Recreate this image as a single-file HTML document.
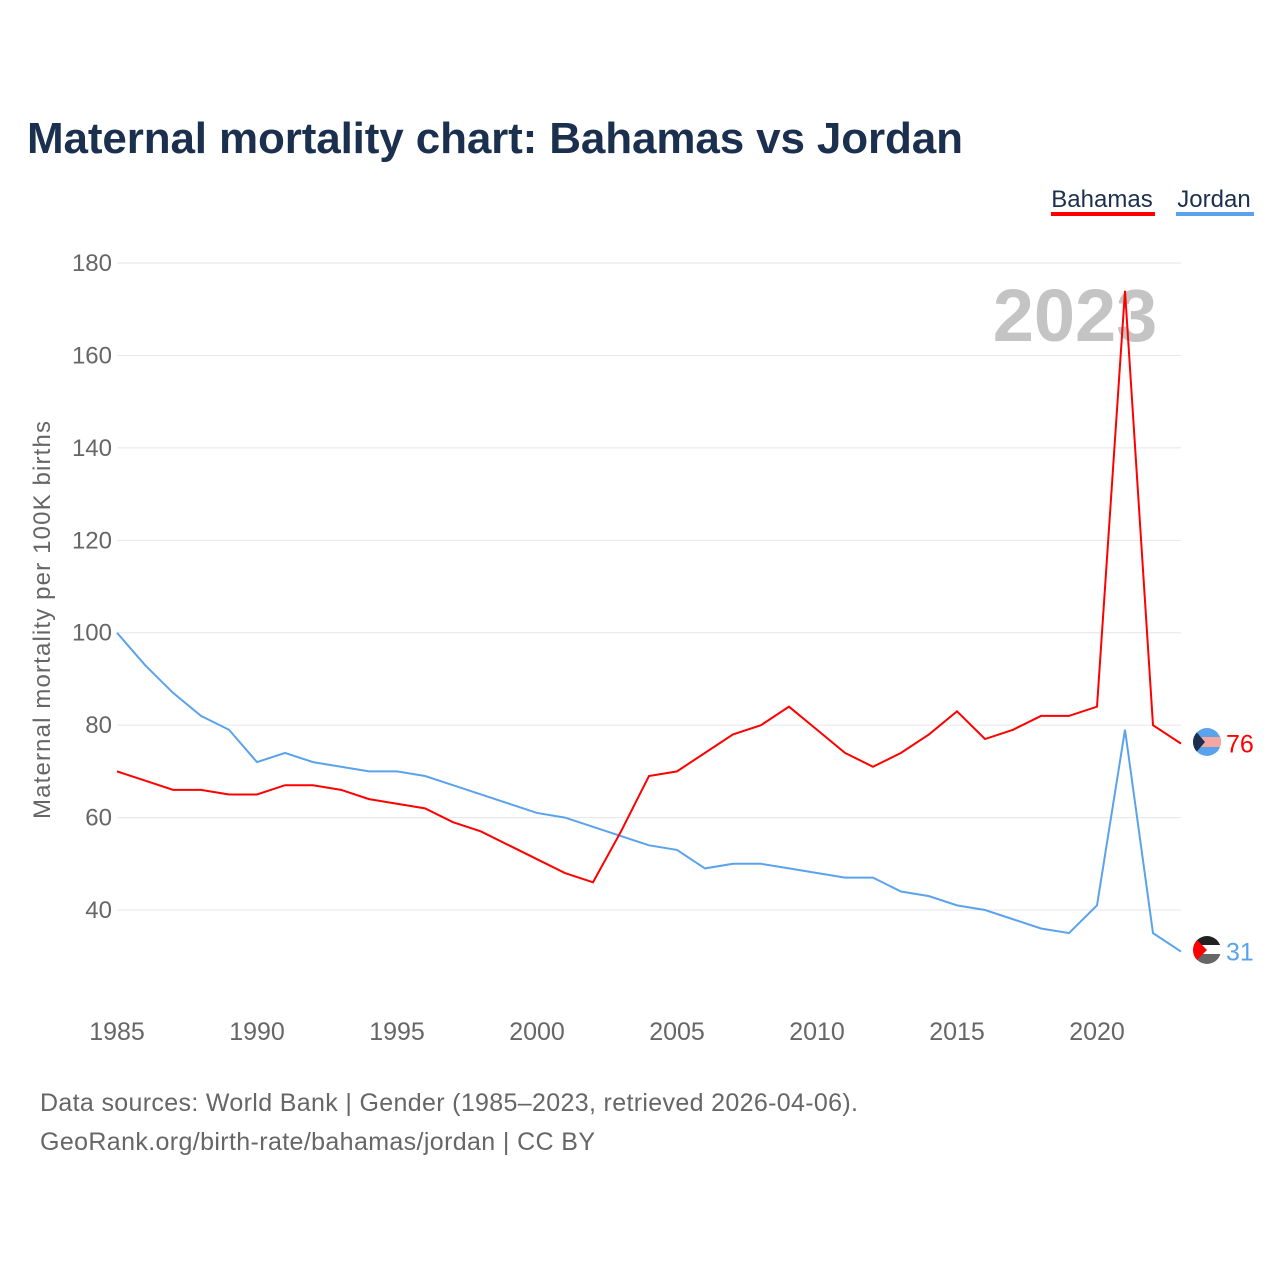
<!DOCTYPE html>
<html><head><meta charset="utf-8"><style>
body{margin:0;background:#fff;font-family:"Liberation Sans",sans-serif}
svg{display:block}
</style></head><body>
<svg width="1280" height="1280" viewBox="0 0 1280 1280" id="chart">
<defs>
<clipPath id="cb"><circle cx="1207" cy="742" r="14"/></clipPath>
<clipPath id="cj"><circle cx="1207" cy="950" r="14"/></clipPath>
</defs>
<text x="27" y="153" font-size="44" font-weight="bold" fill="#1b2f4e" textLength="936">Maternal mortality chart: Bahamas vs Jordan</text>
<g>
<text x="1102" y="207" font-size="24" fill="#1b2f4e" text-anchor="middle">Bahamas</text>
<rect x="1051" y="212" width="104" height="4" fill="#ff0000"/>
<text x="1214" y="207" font-size="24" fill="#1b2f4e" text-anchor="middle">Jordan</text>
<rect x="1176" y="212" width="78" height="4" fill="#5aa3ec"/>
</g>
<text x="1075" y="341" font-size="74" font-weight="bold" fill="#c4c4c4" text-anchor="middle">2023</text>
<g id="grid"></g><g id="xt"></g>
<text transform="translate(50,620) rotate(-90)" font-size="24" fill="#666" text-anchor="middle" textLength="398">Maternal mortality per 100K births</text>
<g id="lines"></g>
<g clip-path="url(#cb)">
<rect x="1193" y="728" width="28" height="28" fill="#5aa3ec"/>
<rect x="1193" y="737" width="28" height="10" fill="#f4a6a0"/>
<polygon points="1193,728 1205,742 1193,756" fill="#1b2f4e"/>
</g>
<g clip-path="url(#cj)">
<rect x="1193" y="936" width="28" height="10" fill="#222"/>
<rect x="1193" y="945" width="28" height="10" fill="#fff"/>
<rect x="1193" y="954" width="28" height="10" fill="#666"/>
<polygon points="1193,936 1207,950 1193,964" fill="#ff0000"/>
</g>
<text x="40" y="1111" font-size="25" fill="#666" textLength="818">Data sources: World Bank | Gender (1985–2023, retrieved 2026-04-06).</text>
<text x="40" y="1150" font-size="25" fill="#666" textLength="555">GeoRank.org/birth-rate/bahamas/jordan | CC BY</text>
</svg>
<script>
const years=[];for(let y=1985;y<=2023;y++)years.push(y);
const bahamas=[70,68,66,66,65,65,67,67,66,64,63,62,59,57,54,51,48,46,57,69,70,74,78,80,84,79,74,71,74,78,83,77,79,82,82,84,174,80,76];
const jordan=[100,93,87,82,79,72,74,72,71,70,70,69,67,65,63,61,60,58,56,54,53,49,50,50,49,48,47,47,44,43,41,40,38,36,35,41,79,35,31];
const yTicks=[40,60,80,100,120,140,160,180];
const xTicks=[1985,1990,1995,2000,2005,2010,2015,2020];
const NS="http://www.w3.org/2000/svg";
const X=y=>117+(y-1985)*28;
const Y=v=>910-(v-40)*4.621;
function mk(t,a,p){const e=document.createElementNS(NS,t);for(const k in a)e.setAttribute(k,a[k]);p.appendChild(e);return e;}
const g=document.getElementById('grid');
yTicks.forEach(v=>{
const l=mk('line',{x1:117,x2:1181,y1:Y(v),y2:Y(v),stroke:'#e6e6e6','stroke-width':1},g);


const t=mk('text',{x:112,y:Y(v)+8,'font-size':24,fill:'#666','text-anchor':'end'},g);t.textContent=v;


});
const xt=document.getElementById('xt');
xTicks.forEach(v=>{
const t=mk('text',{x:X(v),y:1040,'font-size':25,fill:'#666','text-anchor':'middle'},xt);t.textContent=v;


});
const L=document.getElementById('lines');
[[jordan,'#5aa3ec','jordan'],[bahamas,'#ff0000','bahamas']].forEach(([d,c,n])=>{
const p=mk('polyline',{points:d.map((v,i)=>X(years[i])+','+Y(v)).join(' '),fill:'none',stroke:c,'stroke-width':2},L);


const last=d[d.length-1];
const t=mk('text',{x:1226,y:Y(last)+9,'font-size':25,fill:c},L);t.textContent=last;


});
</script>
</body></html>
